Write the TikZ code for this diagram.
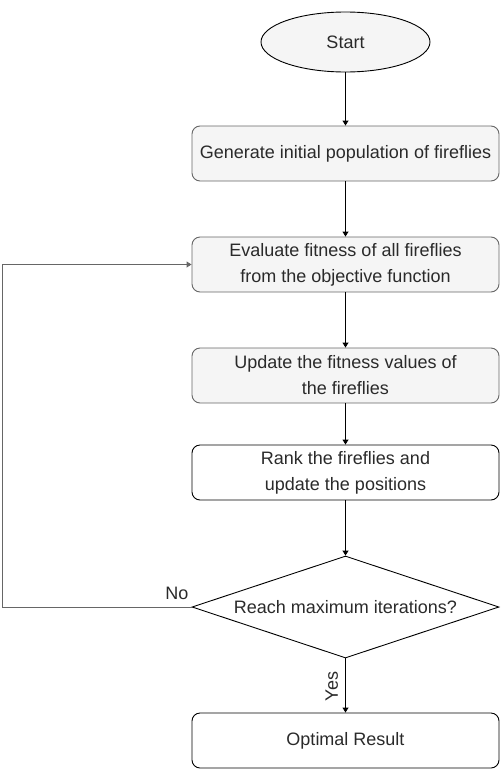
\documentclass[tikz,border=0pt]{standalone}
\usepackage{fontspec}
\setmainfont{Liberation Sans}
\usetikzlibrary{arrows.meta,shapes.geometric}
\definecolor{graybox}{HTML}{F5F5F5}
\definecolor{grayline}{HTML}{666666}
\definecolor{txt}{HTML}{2A2A2A}
\begin{document}
\begin{tikzpicture}[x=1pt,y=-1pt,
  every node/.style={font=\fontsize{18}{26}\selectfont, text=txt},
  proc/.style={draw=black, rounded corners=8pt, minimum width=307pt, minimum height=55pt, inner sep=0pt, align=center, line width=0.9pt},
  grayproc/.style={proc, fill=graybox, draw=grayline},
  arr/.style={-{Triangle[length=5pt,width=6pt]}, line width=0.9pt, black}]
\useasboundingbox (0,0) rectangle (501,769);
\node[ellipse, draw=black, fill=graybox, minimum width=169pt, minimum height=60pt, inner sep=0pt, line width=0.9pt] (start) at (345.5,42) {Start};
\node[grayproc] (gen) at (345.5,153.5) {Generate initial population of fireflies};
\node[grayproc] (eval) at (345.5,264.5) {Evaluate fitness of all fireflies\\from the objective function};
\node[grayproc] (upd) at (345.5,375.5) {Update the fitness values of\\the fireflies};
\node[proc] (rank) at (345.5,472.5) {Rank the fireflies and\\update the positions};
\node[diamond, draw=black, minimum width=307pt, minimum height=102pt, inner sep=0pt, aspect=3, line width=0.9pt] (dec) at (345.5,607) {};
\node at (345.5,607) (dectext) {Reach maximum iterations?};
\node[proc] (opt) at (345.5,740.5) {Optimal Result};
\draw[arr] (start) -- (gen);
\draw[arr] (gen) -- (eval);
\draw[arr] (eval) -- (upd);
\draw[arr] (upd) -- (rank);
\draw[arr] (rank) -- (dec);
\draw[arr] (dec) -- node[rotate=90, anchor=south, inner sep=7pt, pos=0.52] (yes) {Yes} (opt);
\coordinate (lb) at (2,607);
\coordinate (lt) at (2,264.5);
\draw[arr, draw=grayline] (dec.west) -- (lb) -- (lt) -- (eval.west);
\node (no) at (177,593) {No};
\end{tikzpicture}
\end{document}
